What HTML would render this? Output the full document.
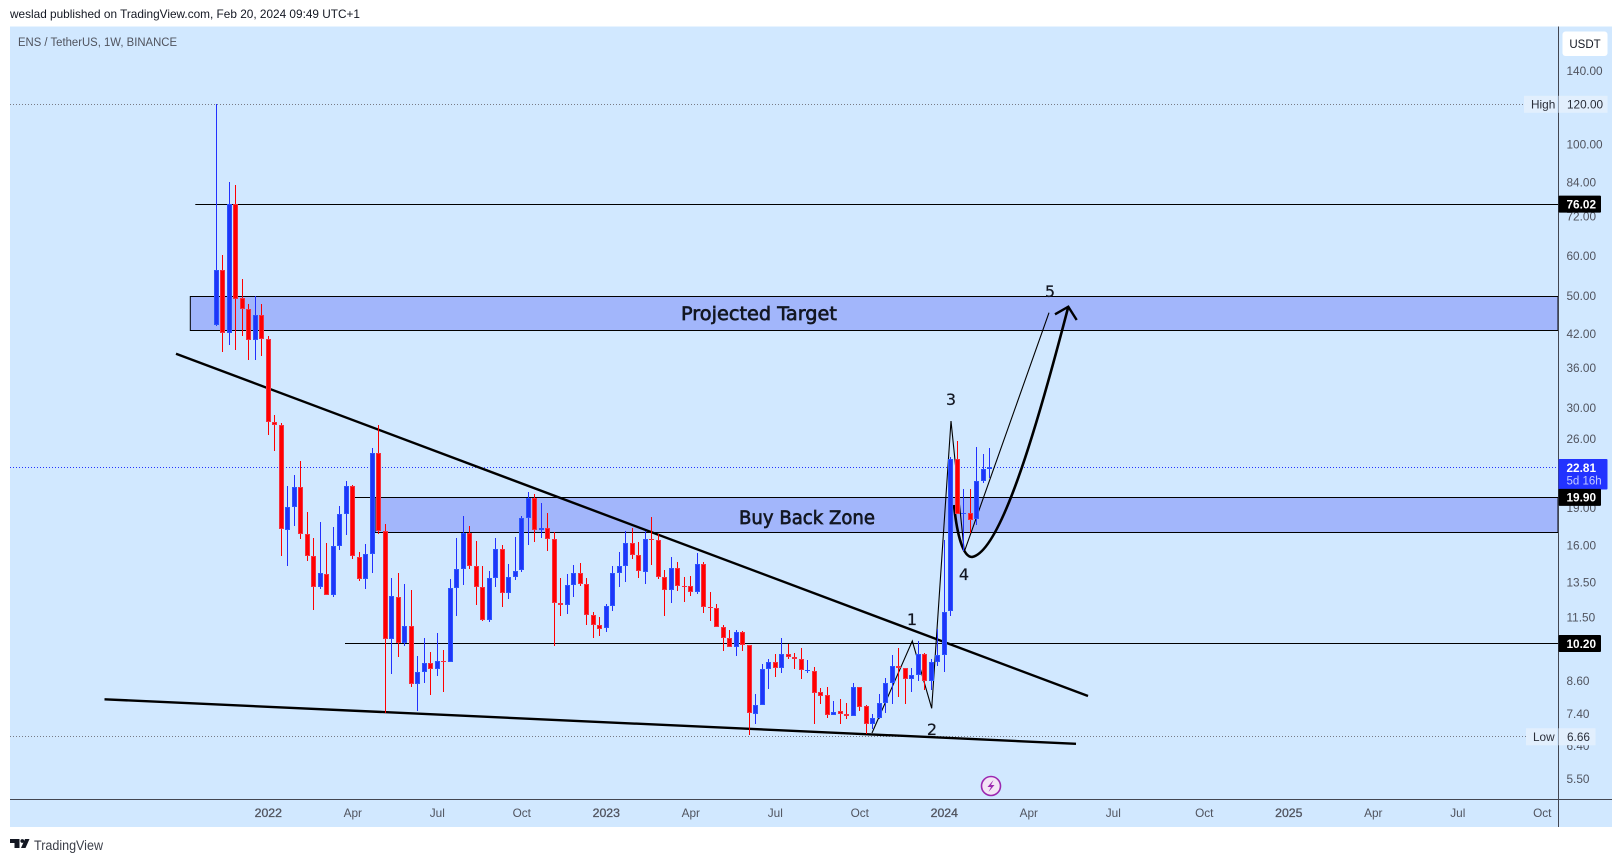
<!DOCTYPE html>
<html lang="en">
<head>
<meta charset="utf-8">
<title>ENS / TetherUS 1W chart</title>
<style>
html,body{margin:0;padding:0;background:#fff;}
svg{display:block;}
text{font-family:"Liberation Sans",sans-serif;}
.drawtext{font-family:"DejaVu Sans",sans-serif;fill:#131722;}
</style>
</head>
<body>
<svg id="chart" xmlns="http://www.w3.org/2000/svg" width="1622" height="862" viewBox="0 0 1622 862">
  <rect x="0" y="0" width="1622" height="862" fill="#ffffff"/>
  <text x="10" y="18" font-size="12" fill="#131722" textLength="350" lengthAdjust="spacingAndGlyphs">weslad published on TradingView.com, Feb 20, 2024 09:49 UTC+1</text>
  <rect x="10" y="26.5" width="1602" height="800.5" fill="#d1e8ff"/>
  <text x="18" y="46" font-size="11.5" fill="#50535e" textLength="159" lengthAdjust="spacingAndGlyphs">ENS / TetherUS, 1W, BINANCE</text>

  <g id="zones"></g>
  <g id="levels"></g>

  <line x1="176" y1="353.7" x2="1088" y2="696" stroke="#000" stroke-width="2.4"/>
  <line x1="104.5" y1="699.3" x2="1076" y2="743.8" stroke="#000" stroke-width="2.4"/>
  <polyline points="872,733 912.3,641 931.7,708.3 951,421 964.3,551.7 1049,312.7" fill="none" stroke="#000" stroke-width="1.1"/>
  <path d="M954,505 C957,535 963,557 972,557 C1000,552 1035,435 1068.3,306.7" fill="none" stroke="#000" stroke-width="2.6"/>
  <polyline points="1055,314.3 1068.3,306.7 1076.7,320" fill="none" stroke="#000" stroke-width="2.4"/>

  <g id="candles"></g>

  <text class="drawtext" x="681" y="320" font-size="19" textLength="156" lengthAdjust="spacingAndGlyphs" stroke="#131722" stroke-width="0.65">Projected Target</text>
  <text class="drawtext" x="739" y="524" font-size="19" textLength="136" lengthAdjust="spacingAndGlyphs" stroke="#131722" stroke-width="0.65">Buy Back Zone</text>
  <text class="drawtext" x="912" y="625" font-size="16" text-anchor="middle" stroke="#131722" stroke-width="0.2">1</text>
  <text class="drawtext" x="932" y="735" font-size="16" text-anchor="middle" stroke="#131722" stroke-width="0.2">2</text>
  <text class="drawtext" x="951" y="405" font-size="16" text-anchor="middle" stroke="#131722" stroke-width="0.2">3</text>
  <text class="drawtext" x="964" y="580" font-size="16" text-anchor="middle" stroke="#131722" stroke-width="0.2">4</text>
  <text class="drawtext" x="1050" y="297" font-size="16" text-anchor="middle" stroke="#131722" stroke-width="0.2">5</text>

  <g>
    <circle cx="991" cy="786" r="9.5" fill="#f3e5f5" stroke="#9c27b0" stroke-width="1.6"/>
    <path d="M993.5,780 L987.5,787 L991,787 L988.5,792 L994.5,785 L991,785 Z" fill="#9c27b0"/>
  </g>

  <line x1="1558.5" y1="26.5" x2="1558.5" y2="827" stroke="#434651" stroke-width="1"/>
  <line x1="10" y1="799.5" x2="1612" y2="799.5" stroke="#434651" stroke-width="1"/>

  <g id="price-ticks"></g>
  <g id="time-ticks"></g>

  <g>
    <rect x="1562.5" y="31.5" width="45" height="24.5" rx="3" fill="#ffffff"/>
    <text x="1585" y="48" font-size="11.5" fill="#131722" text-anchor="middle">USDT</text>
  </g>

  <g id="price-badges"></g>

  <g>
    <path d="M10,839 H19.5 V848 H14.5 V843 H10 Z" fill="#131722"/>
    <circle cx="22.3" cy="841" r="1.9" fill="#131722"/>
    <path d="M25,839 H29.5 L25.5,848 H21 Z" fill="#131722"/>
    <text x="34" y="850" font-size="13.5" fill="#3b3e48" textLength="69" lengthAdjust="spacingAndGlyphs">TradingView</text>
  </g>
</svg>

<script>
// Weekly OHLC values (USDT), one entry per candle
const opens = [
43.67,56.24,42.1,76.02,49.48,47.06,40.77,45.79,41.03,28.09,
27.71,17.15,19.05,20.87,16.84,15.23,13.22,14.03,12.75,15.94,
18.45,20.97,15.17,13.71,15.38,24.39,17.07,10.42,12.63,10.23,
11.07,8.48,8.97,9.35,9.09,9.43,9.39,13.16,14.36,16.92,
14.55,13.22,11.35,13.78,15.73,12.86,13.84,14.27,18.12,19.85,
17.15,17.31,16.46,12.29,12.16,13.34,14.09,13.41,11.64,11.12,
10.96,12.13,14.09,14.56,16.17,15.30,14.17,16.46,16.39,13.84,
13.05,14.43,13.28,13.26,12.92,14.70,12.08,12.01,11.02,10.47,
10.03,10.76,10.15,7.40,7.71,9.06,9.39,9.13,9.74,9.61,
9.52,9.03,9.0,8.18,8.07,7.36,7.50,7.40,7.32,8.38,
7.65,7.07,7.26,7.78,8.53,9.22,9.13,8.67,8.83,9.74,
8.59,9.39,9.69,11.83,23.72,18.5,18.54,18.0,21.45,22.67];
const highs = [
120,60.3,84.15,83.0,54.05,48.2,50.0,48.2,41.66,29.05,
27.96,21.0,22.08,23.54,18.65,16.49,17.74,16.17,17.41,19.17,
21.48,21.09,15.52,16.11,24.95,27.75,17.63,13.78,14.11,13.42,
13.0,9.62,10.47,9.83,10.71,9.92,13.67,16.54,18.31,17.49,
16.31,14.56,14.23,16.54,16.04,14.64,16.61,18.31,20.40,20.22,
19.41,18.54,17.0,13.78,14.03,14.58,14.71,13.79,11.80,11.49,
12.2,14.51,15.52,17.07,17.31,16.24,17.05,18.2,16.86,14.25,
15.17,14.82,13.84,13.90,15.45,14.82,12.92,12.24,11.10,10.87,
10.87,10.81,10.15,8.11,9.28,9.52,9.71,10.47,10.20,9.76,
10.0,9.45,9.17,8.31,8.38,7.86,7.90,7.78,8.50,8.38,
7.69,7.38,8.11,8.73,9.66,10.0,9.13,9.13,10.34,9.76,
9.52,10.91,16.41,23.9,25.79,20.68,20.68,25.03,24.30,24.95];
const lows = [
43.6,38.6,39.98,39.07,41.66,37.21,37.33,37.9,26.51,24.56,
15.21,14.53,17.44,16.46,14.86,11.88,13.06,12.75,12.61,15.63,
16.74,14.99,13.56,13.08,14.07,16.81,7.42,8.86,9.59,10.08,
8.36,7.48,8.53,8.06,8.79,8.17,9.39,11.56,13.32,14.31,
12.16,11.30,11.25,13.2,12.05,12.48,13.63,14.15,15.99,16.21,
16.51,15.56,10.08,11.56,11.65,12.61,13.26,11.10,10.45,10.55,
10.75,11.83,13.18,13.51,14.98,13.78,13.41,14.59,13.69,11.56,
12.27,12.94,12.33,12.67,12.80,11.74,11.30,11.02,9.85,10.03,
9.64,9.85,6.70,7.05,7.71,8.27,8.75,8.91,9.49,9.08,
8.66,8.91,7.05,7.72,7.26,7.36,7.06,7.21,7.32,7.49,
6.76,6.89,7.21,7.43,7.72,7.98,7.72,8.17,8.59,8.24,
8.24,9.19,8.97,11.56,18.45,15.56,16.94,17.57,21.29,21.78];
const closes = [
56.24,42.1,76.02,49.26,47.06,40.77,45.79,40.96,28.04,27.71,
17.23,19.05,20.87,16.84,15.23,13.22,14.09,12.75,15.94,18.45,
20.97,15.23,13.71,15.38,24.39,17.07,10.42,12.69,10.23,11.07,
8.48,8.97,9.35,9.09,9.43,9.40,13.16,14.36,16.92,14.53,
13.22,11.35,13.78,15.73,12.86,13.84,14.23,18.12,19.85,17.15,
17.31,16.46,12.29,12.16,13.34,14.09,13.41,11.64,11.12,10.91,
12.13,14.09,14.56,16.17,15.30,14.23,16.46,16.43,13.84,13.05,
14.43,13.28,13.26,12.92,14.70,12.08,12.05,11.02,10.47,10.03,
10.76,10.15,7.43,7.71,9.06,9.39,9.13,9.74,9.61,9.52,
9.05,9.05,8.15,8.04,7.36,7.46,7.40,7.32,8.38,7.64,
7.07,7.26,7.78,8.53,9.22,9.13,8.66,8.85,9.74,8.59,
9.39,9.69,11.80,23.72,18.45,18.54,17.92,21.45,22.67,22.81];

const priceTicks = [140,120,100,84,72,60,50,42,36,30,26,19,16,13.5,11.5,8.6,7.4,6.4,5.5];
const priceTickLabels = ["140.00","120.00","100.00","84.00","72.00","60.00","50.00","42.00","36.00","30.00","26.00","19.00","16.00","13.50","11.50","8.60","7.40","6.40","5.50"];
const timeTickWeeks = [8,21,34,47,60,73,86,99,112,125,138,152,165,178,191,204];
const timeTickLabels = ["2022","Apr","Jul","Oct","2023","Apr","Jul","Oct","2024","Apr","Jul","Oct","2025","Apr","Jul","Oct"];
const yearTimeTicks = ["2022","2023","2024","2025"];

const highPrice = 120;
const lowPrice = 6.66;
const lastPrice = 22.81;
const levelPrices = [76.02, 19.90, 10.20];
const levelLabels = ["76.02", "19.90", "10.20"];
const zoneTops = [49.9, 19.9];
const zoneBottoms = [42.75, 16.92];

const NS = "http://www.w3.org/2000/svg";
function yScale(p){ return 104.3 + 218.75 * Math.log(120 / p); }
function xScale(i){ return 216.3 + 6.5 * i; }
function make(tag, parent, attrs, txt){
  const e = document.createElementNS(NS, tag);
  for (const k in attrs) e.setAttribute(k, attrs[k]);
  if (txt !== undefined) e.textContent = txt;
  parent.appendChild(e);
  return e;
}
function crisp(v){ return Math.floor(v) + 0.5; }

// zones
const zonesG = document.getElementById("zones");
const zoneLefts = [190.3, 375];
const zoneNames = ["projected-target-zone", "buy-back-zone"];
zoneTops.forEach(function(top, i){
  const yT = crisp(yScale(top));
  const yB = crisp(yScale(zoneBottoms[i]));
  const r = make("rect", zonesG, {x: zoneLefts[i], y: yT, width: 1558 - zoneLefts[i], height: yB - yT, fill: "#a2b6fb", stroke: "#000", "stroke-width": 1});
  
  
});
const zoneStub = make("line", zonesG, {x1: 350, x2: 375, y1: crisp(yScale(zoneTops[1])), y2: crisp(yScale(zoneTops[1])), stroke: "#000", "stroke-width": 1});



// horizontal levels
const levelsG = document.getElementById("levels");
const levelStarts = [195.3, 1558, 345];
levelPrices.forEach(function(p, i){
  if (levelStarts[i] >= 1558) return;
  const y = crisp(yScale(p));
  const l = make("line", levelsG, {x1: levelStarts[i], x2: 1558, y1: y, y2: y, stroke: "#000", "stroke-width": 1});
  
  
});
const highLine = make("line", levelsG, {x1: 10, x2: 1524, y1: crisp(yScale(highPrice)), y2: crisp(yScale(highPrice)), stroke: "#787b86", "stroke-width": 1, "stroke-dasharray": "1 2"});


const lowLine = make("line", levelsG, {x1: 10, x2: 1526, y1: crisp(yScale(lowPrice)), y2: crisp(yScale(lowPrice)), stroke: "#787b86", "stroke-width": 1, "stroke-dasharray": "1 2"});


const lastLine = make("line", levelsG, {x1: 10, x2: 1558, y1: crisp(yScale(lastPrice)), y2: crisp(yScale(lastPrice)), stroke: "#2233ff", "stroke-width": 1, "stroke-dasharray": "1 2"});



// candles
const candlesG = document.getElementById("candles");
opens.forEach(function(o, i){
  const c = closes[i];
  const up = c >= o;
  const wickCol = up ? "#2230ff" : "#ff0000";
  const fillCol = up ? "#1f35f8" : "#ff0000";
  const edgeCol = up ? "#2a55ff" : "#f5303f";
  const xi = Math.floor(xScale(i));
  const yH = Math.round(yScale(highs[i]));
  const yL = Math.round(yScale(lows[i]));
  const yT = Math.round(yScale(Math.max(o, c)));
  const yB = Math.round(yScale(Math.min(o, c)));
  const g = make("g", candlesG, {});
  
  
  make("rect", g, {x: xi, y: yH, width: 1, height: Math.max(1, yL - yH), fill: wickCol});
  make("rect", g, {x: xi - 2, y: yT, width: 5, height: Math.max(1, yB - yT), fill: edgeCol});
  if (yB - yT > 2) make("rect", g, {x: xi - 1, y: yT + 1, width: 3, height: yB - yT - 2, fill: fillCol});
});

// axis ticks
const priceTicksG = document.getElementById("price-ticks");
priceTicks.forEach(function(p, i){
  const t = make("text", priceTicksG, {x: 1566.5, y: yScale(p) + 4.3, "font-size": 11.8, fill: "#50535e"}, priceTickLabels[i]);
  
  
});
const timeTicksG = document.getElementById("time-ticks");
timeTickWeeks.forEach(function(w, i){
  const lbl = timeTickLabels[i];
  const isYear = yearTimeTicks.indexOf(lbl) >= 0;
  const t = make("text", timeTicksG, {x: xScale(w), y: 817, "font-size": isYear ? 12.3 : 11.8, fill: "#50535e", "text-anchor": "middle", stroke: isYear ? "#50535e" : "none", "stroke-width": 0.3}, lbl);
  
  
});

// price badges
const badgesG = document.getElementById("price-badges");
function plainBadge(name, x, w, p, label, bg, fg){
  const y = yScale(p);
  const g = make("g", badgesG, {});
  
  
  make("rect", g, {x: x, y: y - 8.5, width: w, height: 17, fill: bg});
  make("text", g, {x: x + (name.indexOf("side") >= 0 ? 7 : 8.5), y: y + 4.3, "font-size": 11.8, fill: fg}, label);
}
plainBadge("high-side-label", 1524, 33, highPrice, "High", "#e2effd", "#2a2e39");
plainBadge("high-price-badge", 1558.5, 49, highPrice, "120.00", "#e2effd", "#2a2e39");
plainBadge("low-side-label", 1526, 31, lowPrice, "Low", "#e2effd", "#2a2e39");
plainBadge("low-price-badge", 1558.5, 37, lowPrice, "6.66", "#e2effd", "#2a2e39");
levelPrices.forEach(function(p, i){
  const y = yScale(p);
  const g = make("g", badgesG, {});
  
  
  make("rect", g, {x: 1558.5, y: y - 8.5, width: 42.5, height: 17, rx: 1, fill: "#000"});
  make("text", g, {x: 1566.5, y: y + 4.3, "font-size": 11.8, "font-weight": "bold", fill: "#fff"}, levelLabels[i]);
});
const lastBadge = make("g", badgesG, {});


const lastY = yScale(lastPrice);
make("rect", lastBadge, {x: 1558.5, y: lastY - 8.5, width: 49, height: 30.5, rx: 1, fill: "#2233ff"});
make("text", lastBadge, {x: 1566.5, y: lastY + 4.3, "font-size": 11.8, "font-weight": "bold", fill: "#fff"}, lastPrice.toFixed(2));
make("text", lastBadge, {x: 1566.5, y: lastY + 17, "font-size": 11.5, fill: "#c5cbff"}, "5d 16h");
// black 19.90 badge sits above the last-price badge
badgesG.appendChild(badgesG.children[5]);
</script>
</body>
</html>
